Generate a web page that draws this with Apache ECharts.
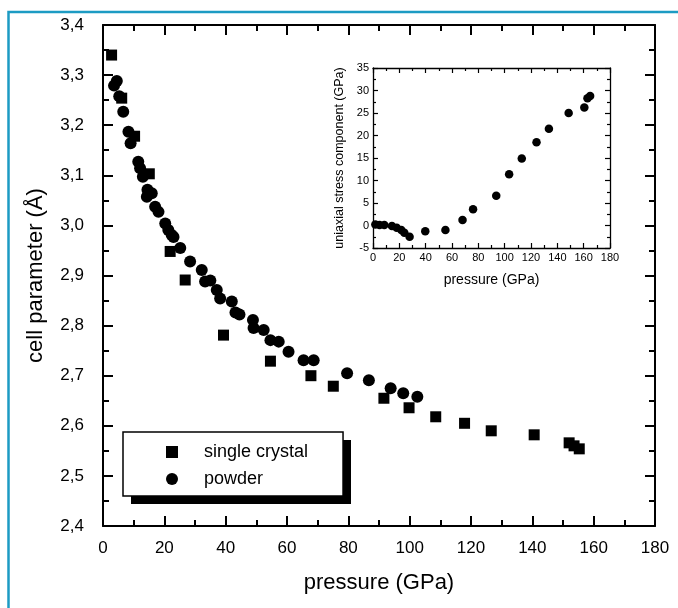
<!DOCTYPE html>
<html>
<head>
<meta charset="utf-8">
<script src="https://cdn.jsdelivr.net/npm/echarts@6/dist/echarts.min.js"></script>
<style>
  html, body { margin: 0; padding: 0; background: #fff; }
  #chart { width: 678px; height: 608px; }
</style>
</head>
<body>
<div id="chart"></div>
<script>
// main plot: single crystal (pressure GPa, cell parameter Å)
const crystalP = [2.8, 6.1, 10.3, 15.1, 21.9, 26.8, 39.3, 54.6, 67.8, 75.1, 91.6, 99.8, 108.5, 117.9, 126.6, 140.6, 152.0, 153.6, 155.3];
const crystalA = [3.340, 3.254, 3.178, 3.103, 2.948, 2.891, 2.781, 2.729, 2.700, 2.679, 2.655, 2.636, 2.618, 2.605, 2.590, 2.582, 2.566, 2.560, 2.554];

// main plot: powder
const powderP = [3.6, 4.5, 5.3, 6.6, 8.3, 9.0, 11.5, 12.1, 13.0, 14.3, 14.5, 15.9, 17.0, 18.1, 20.3, 21.3, 22.4, 23.0, 25.2, 28.4, 32.2, 33.3, 35.0, 37.1, 38.2, 42.0, 43.2, 44.5, 48.9, 49.1, 52.4, 54.6, 57.3, 60.5, 65.4, 68.7, 79.6, 86.7, 93.8, 97.9, 102.5];
const powderA = [3.279, 3.288, 3.258, 3.227, 3.187, 3.164, 3.127, 3.114, 3.097, 3.057, 3.071, 3.064, 3.037, 3.027, 3.004, 2.991, 2.981, 2.977, 2.955, 2.928, 2.911, 2.888, 2.890, 2.871, 2.854, 2.848, 2.826, 2.822, 2.811, 2.795, 2.791, 2.771, 2.768, 2.748, 2.731, 2.731, 2.705, 2.691, 2.675, 2.665, 2.658];

// inset: uniaxial stress component vs pressure
const insetP = [1.8, 5.0, 8.6, 14.4, 18.0, 21.5, 23.8, 27.8, 39.7, 55.0, 68.0, 76.0, 93.6, 103.4, 113.0, 124.2, 133.6, 148.6, 160.5, 162.9, 164.9];
const insetS = [0.2, 0.1, 0.1, -0.1, -0.5, -1.0, -1.6, -2.5, -1.3, -1.0, 1.2, 3.6, 6.6, 11.4, 14.9, 18.5, 21.5, 25.0, 26.2, 28.3, 28.8];

const legendNames = ['single crystal', 'powder'];

const FONT = '"Liberation Sans", Arial, Helvetica, sans-serif';

function pairs(xs, ys) {
  return xs.map((x, i) => [x, ys[i]]);
}

function commaLabel(v) {
  return v.toFixed(1).replace('.', ',');
}

// frame axes with inward ticks; the mirrored ones carry no labels
function xAxis(gridIndex, position, big, extra) {
  return Object.assign({
    type: 'value',
    gridIndex: gridIndex,
    position: position,
    min: 0,
    max: 180,
    interval: 20,
    axisLine: { onZero: false, lineStyle: { color: '#000', width: big ? 2 : 1.3 } },
    axisTick: { inside: true, length: big ? 10 : 5, lineStyle: { color: '#000', width: big ? 2 : 1.2 } },
    minorTick: { show: true, splitNumber: 2, length: big ? 6 : 3, lineStyle: { color: '#000', width: big ? 2 : 1.2 } },
    splitLine: { show: false },
    axisLabel: { show: false }
  }, extra || {});
}

function yAxis(gridIndex, position, big, min, max, interval, extra) {
  return Object.assign({
    type: 'value',
    gridIndex: gridIndex,
    position: position,
    min: min,
    max: max,
    interval: interval,
    axisLine: { onZero: false, lineStyle: { color: '#000', width: big ? 2 : 1.3 } },
    axisTick: { inside: true, length: big ? 10 : 5, lineStyle: { color: '#000', width: big ? 2 : 1.2 } },
    minorTick: { show: true, splitNumber: 2, length: big ? 6 : 3, lineStyle: { color: '#000', width: big ? 2 : 1.2 } },
    splitLine: { show: false },
    axisLabel: { show: false }
  }, extra || {});
}

const chart = echarts.init(document.getElementById('chart'), null, { renderer: 'canvas' });

const option = {
  backgroundColor: '#fff',
  animation: false,
  textStyle: { fontFamily: FONT, color: '#000' },
  grid: [
    { left: 103, top: 25, right: 23, bottom: 82 },
    { left: 373, top: 68, right: 68, bottom: 360 }
  ],
  xAxis: [
    xAxis(0, 'bottom', true, {
      name: 'pressure (GPa)',
      nameLocation: 'middle',
      nameGap: 46,
      nameTextStyle: { fontSize: 22, color: '#000', fontFamily: FONT },
      axisLabel: { show: true, fontSize: 17, color: '#000', margin: 14, fontFamily: FONT }
    }),
    xAxis(0, 'top', true),
    xAxis(1, 'bottom', false, {
      name: 'pressure (GPa)',
      nameLocation: 'middle',
      nameGap: 25,
      nameTextStyle: { fontSize: 14, color: '#000', fontFamily: FONT },
      axisLabel: { show: true, fontSize: 11, color: '#000', margin: 4, fontFamily: FONT }
    }),
    xAxis(1, 'top', false)
  ],
  yAxis: [
    yAxis(0, 'left', true, 2.4, 3.4, 0.1, {
      name: 'cell parameter (Å)',
      nameLocation: 'middle',
      nameGap: 56,
      nameTextStyle: { fontSize: 22, color: '#000', fontFamily: FONT },
      axisLabel: { show: true, fontSize: 17, color: '#000', margin: 19, fontFamily: FONT, formatter: commaLabel }
    }),
    yAxis(0, 'right', true, 2.4, 3.4, 0.1),
    yAxis(1, 'left', false, -5, 35, 5, {
      name: 'uniaxial stress component (GPa)',
      nameLocation: 'middle',
      nameGap: 27,
      nameTextStyle: { fontSize: 12.5, color: '#000', fontFamily: FONT },
      axisLabel: { show: true, fontSize: 11, color: '#000', margin: 4, fontFamily: FONT }
    }),
    yAxis(1, 'right', false, -5, 35, 5)
  ],
  legend: {
    data: legendNames,
    orient: 'vertical',
    left: 123,
    top: 432,
    z: 10,
    padding: [11, 35, 8, 43],
    itemWidth: 12,
    itemHeight: 12,
    itemGap: 9,
    backgroundColor: '#fff',
    borderColor: '#000',
    borderWidth: 1.5,
    selectedMode: false,
    textStyle: { fontSize: 18, color: '#000', fontFamily: FONT, padding: [0, 0, 0, 21] }
  },
  series: [
    {
      name: legendNames[0],
      type: 'scatter',
      xAxisIndex: 0,
      yAxisIndex: 0,
      symbol: 'rect',
      symbolSize: 11,
      itemStyle: { color: '#000', opacity: 1 },
      data: pairs(crystalP, crystalA)
    },
    {
      name: legendNames[1],
      type: 'scatter',
      xAxisIndex: 0,
      yAxisIndex: 0,
      symbol: 'circle',
      symbolSize: 12,
      itemStyle: { color: '#000', opacity: 1 },
      data: pairs(powderP, powderA)
    },
    {
      name: 'stress',
      type: 'scatter',
      xAxisIndex: 2,
      yAxisIndex: 2,
      symbol: 'circle',
      symbolSize: 8.5,
      itemStyle: { color: '#000', opacity: 1 },
      data: pairs(insetP, insetS)
    }
  ],
  graphic: [
    // blue page frame (left and top edges only)
    {
      type: 'polyline',
      shape: { points: [[8.5, 608], [8.5, 12], [678, 12]] },
      style: { stroke: '#1c9bc3', lineWidth: 2.5, fill: null },
      silent: true
    },
    // solid drop shadow behind the legend box
    {
      type: 'rect',
      z: 1,
      shape: { x: 131, y: 440, width: 220, height: 64 },
      style: { fill: '#000' },
      silent: true
    }
  ]
};

chart.setOption(option);
</script>
</body>
</html>
